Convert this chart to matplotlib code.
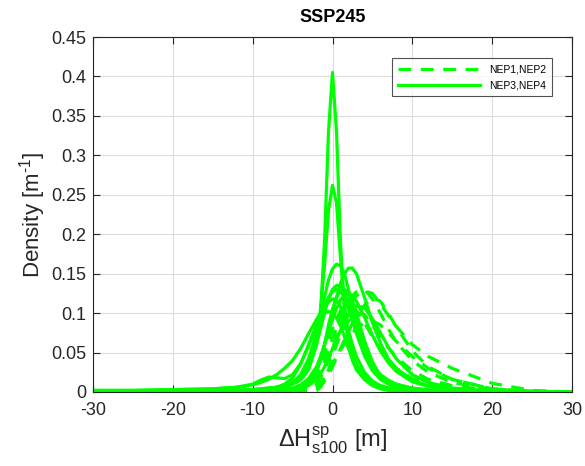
import matplotlib
matplotlib.use("Agg")
import matplotlib.pyplot as plt

plt.rcParams['font.family'] = ['Liberation Sans', 'DejaVu Sans']
plt.rcParams['mathtext.fontset'] = 'custom'
plt.rcParams['mathtext.rm'] = 'Liberation Sans'
plt.rcParams['mathtext.it'] = 'Liberation Sans'
plt.rcParams['axes.unicode_minus'] = False

x_grid = [-30, -25, -20, -15, -12, -10, -9, -8, -7, -6, -5, -4, -3, -2, -1.5, -1, -0.5,
          0, 0.5, 1, 1.5, 2, 2.5, 3, 4, 5, 6, 7, 8, 10, 12, 15, 20, 25, 30]

# NEP3,NEP4 (solid)
nep34_a = [0, 0, 0.0005, 0.001, 0.002, 0.003, 0.003, 0.004, 0.005, 0.007, 0.01, 0.015, 0.028, 0.06, 0.1, 0.19, 0.33,
           0.405, 0.33, 0.19, 0.1, 0.06, 0.04, 0.028, 0.016, 0.01, 0.007, 0.005, 0.004, 0.002, 0.001, 0.0005, 0, 0, 0]
nep34_b = [0, 0, 0.0005, 0.001, 0.002, 0.003, 0.004, 0.005, 0.006, 0.008, 0.012, 0.02, 0.035, 0.07, 0.105, 0.16, 0.23,
           0.262, 0.24, 0.17, 0.11, 0.07, 0.05, 0.035, 0.02, 0.012, 0.008, 0.005, 0.004, 0.002, 0.001, 0.0005, 0, 0, 0]
nep34_c = [0, 0, 0.0005, 0.001, 0.002, 0.003, 0.004, 0.005, 0.006, 0.008, 0.012, 0.022, 0.042, 0.075, 0.095, 0.12, 0.142,
           0.156, 0.162, 0.16, 0.15, 0.13, 0.11, 0.09, 0.056, 0.035, 0.022, 0.015, 0.01, 0.005, 0.003, 0.001, 0, 0, 0]
nep34_d = [0, 0, 0, 0, 0, 0, 0, 0, 0.001, 0.002, 0.003, 0.006, 0.012, 0.028, 0.042, 0.06, 0.08,
           0.1, 0.12, 0.138, 0.15, 0.157, 0.157, 0.15, 0.12, 0.088, 0.062, 0.042, 0.03, 0.015, 0.008, 0.003, 0.001, 0, 0]
nep34_e = [0.002, 0.002, 0.003, 0.004, 0.006, 0.009, 0.012, 0.016, 0.022, 0.03, 0.04, 0.055, 0.074, 0.092, 0.1, 0.108, 0.114,
           0.118, 0.116, 0.108, 0.095, 0.078, 0.06, 0.045, 0.025, 0.014, 0.008, 0.005, 0.003, 0.002, 0.001, 0.0005, 0, 0, 0]
nep34_f = [0.002, 0.002, 0.003, 0.004, 0.006, 0.01, 0.015, 0.019, 0.018, 0.017, 0.022, 0.036, 0.058, 0.085, 0.098, 0.11, 0.12,
           0.127, 0.13, 0.128, 0.12, 0.105, 0.09, 0.074, 0.046, 0.027, 0.016, 0.01, 0.006, 0.003, 0.002, 0.001, 0, 0, 0]
nep34_g = [0, 0, 0, 0.001, 0.001, 0.002, 0.002, 0.003, 0.004, 0.006, 0.01, 0.018, 0.032, 0.06, 0.08, 0.1, 0.118,
           0.13, 0.135, 0.135, 0.128, 0.115, 0.098, 0.08, 0.05, 0.03, 0.018, 0.011, 0.007, 0.003, 0.002, 0.001, 0, 0, 0]
nep34_h = [0, 0, 0, 0, 0, 0.001, 0.001, 0.001, 0.002, 0.003, 0.005, 0.009, 0.017, 0.032, 0.045, 0.06, 0.076,
           0.092, 0.106, 0.117, 0.123, 0.125, 0.122, 0.115, 0.095, 0.072, 0.052, 0.037, 0.026, 0.013, 0.007, 0.003, 0.001, 0, 0]
nep34_i = [0, 0, 0, 0, 0, 0, 0, 0, 0, 0.001, 0.002, 0.004, 0.008, 0.016, 0.023, 0.032, 0.043,
           0.055, 0.067, 0.078, 0.089, 0.098, 0.105, 0.109, 0.107, 0.093, 0.075, 0.057, 0.042, 0.022, 0.012, 0.005, 0.001, 0, 0]
nep34_j = [0, 0, 0, 0.001, 0.001, 0.002, 0.003, 0.004, 0.006, 0.01, 0.018, 0.035, 0.06, 0.085, 0.095, 0.1, 0.102,
           0.1, 0.094, 0.084, 0.07, 0.055, 0.042, 0.03, 0.016, 0.008, 0.004, 0.002, 0.001, 0, 0, 0, 0, 0, 0]
nep34_k = [0, 0, 0, 0, 0, 0, 0, 0, 0, 0.001, 0.002, 0.004, 0.01, 0.025, 0.04, 0.06, 0.085,
           0.105, 0.12, 0.128, 0.13, 0.126, 0.115, 0.1, 0.065, 0.038, 0.02, 0.011, 0.006, 0.002, 0.001, 0, 0, 0, 0]

# NEP1,NEP2 (dashed)
nep12_a = [0, 0, 0, 0, 0, 0, 0, 0, 0, 0, 0, 0.001, 0.003, 0.01, 0.018, 0.028, 0.04,
           0.055, 0.07, 0.085, 0.098, 0.108, 0.116, 0.122, 0.128, 0.125, 0.112, 0.097, 0.083, 0.06, 0.045, 0.03, 0.011, 0.002, 0]
nep12_b = [0, 0, 0, 0, 0, 0, 0, 0, 0, 0, 0.001, 0.002, 0.005, 0.015, 0.025, 0.038, 0.052,
           0.068, 0.082, 0.095, 0.106, 0.115, 0.122, 0.127, 0.13, 0.118, 0.1, 0.08, 0.063, 0.04, 0.025, 0.012, 0.003, 0.001, 0]
nep12_c = [0, 0, 0, 0, 0, 0, 0, 0, 0, 0, 0, 0, 0.001, 0.004, 0.008, 0.014, 0.022,
           0.032, 0.043, 0.055, 0.066, 0.077, 0.087, 0.096, 0.11, 0.12, 0.115, 0.1, 0.082, 0.052, 0.032, 0.016, 0.004, 0.001, 0]
nep12_d = [0, 0, 0, 0, 0, 0, 0, 0, 0, 0, 0, 0, 0, 0.002, 0.006, 0.015, 0.028,
           0.045, 0.06, 0.072, 0.082, 0.09, 0.096, 0.1, 0.098, 0.085, 0.07, 0.056, 0.044, 0.027, 0.016, 0.008, 0.002, 0, 0]
nep12_e = [0, 0, 0, 0, 0, 0, 0, 0, 0, 0, 0.001, 0.003, 0.008, 0.02, 0.032, 0.048, 0.065,
           0.08, 0.093, 0.103, 0.109, 0.11, 0.108, 0.103, 0.088, 0.07, 0.054, 0.04, 0.03, 0.017, 0.01, 0.004, 0.001, 0, 0]
nep12_f = [0, 0, 0, 0, 0, 0, 0, 0, 0, 0, 0, 0, 0.002, 0.006, 0.011, 0.018, 0.026,
           0.035, 0.044, 0.053, 0.061, 0.068, 0.075, 0.08, 0.088, 0.09, 0.085, 0.075, 0.064, 0.045, 0.03, 0.016, 0.004, 0.001, 0]

solid_curves = [nep34_a, nep34_b, nep34_c, nep34_d, nep34_e, nep34_f,
                nep34_g, nep34_h, nep34_i, nep34_j, nep34_k]
dashed_curves = [nep12_a, nep12_b, nep12_c, nep12_d, nep12_e, nep12_f]

green = '#00ff00'
dark = '#262626'

fig = plt.figure(figsize=(5.85, 4.66), dpi=100)
ax = fig.add_axes([93/585, 1 - 392/466, (572-93)/585, (392-37)/466])

for i, c in enumerate(dashed_curves):
    ax.plot(x_grid, c, color=green, lw=2.3, ls=(0, (4, 3)),
            label='NEP1,NEP2' if i == 0 else None)
for i, c in enumerate(solid_curves):
    ax.plot(x_grid, c, color=green, lw=2.3, ls='-',
            label='NEP3,NEP4' if i == 0 else None)

ax.set_xlim(-30, 30)
ax.set_ylim(0, 0.45)
ax.set_xticks([-30, -20, -10, 0, 10, 20, 30])
ax.set_yticks([0, 0.05, 0.1, 0.15, 0.2, 0.25, 0.3, 0.35, 0.4, 0.45])
ax.set_yticklabels(['0', '0.05', '0.1', '0.15', '0.2', '0.25', '0.3', '0.35', '0.4', '0.45'])
ax.grid(True, color='#dcdcdc', lw=0.8)
ax.set_axisbelow(True)
ax.tick_params(direction='in', length=5, width=0.8, colors=dark, labelsize=13,
               top=True, right=True)
ax.tick_params(axis='x', pad=7)
ax.tick_params(axis='y', pad=5)
for s in ax.spines.values():
    s.set_color(dark)
    s.set_linewidth(0.8)

ax.set_title('SSP245', fontsize=13, fontweight='bold', color='black', pad=11)
ax.set_ylabel(r'Density [m$^{\text{-}1}$]', fontsize=16, color=dark, labelpad=2)
ax.set_xlabel(r'$\Delta$H$^{\mathrm{sp}}_{\mathrm{s100}}$ [m]', fontsize=17, color=dark, labelpad=4)

leg = ax.legend(loc='upper right', bbox_to_anchor=(0.97, 0.955), fontsize=7.5,
                frameon=True, fancybox=False, edgecolor=dark, handlelength=7.8,
                borderpad=0.6, labelspacing=0.55, handletextpad=0.9)
leg.get_frame().set_linewidth(0.8)

fig.savefig('out.png', dpi=100)
